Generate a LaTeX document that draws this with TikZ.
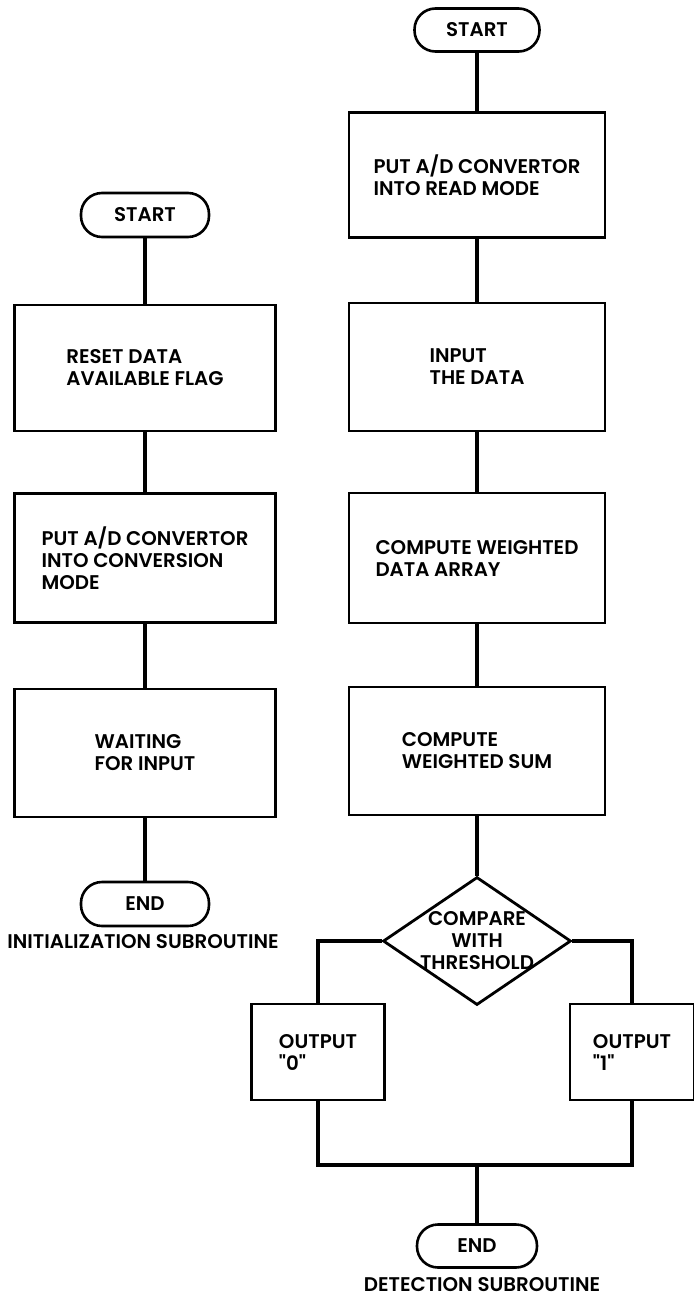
\documentclass[tikz,border=0pt]{standalone}
\usepackage{fontspec}
\setmainfont{Poppins}
\newfontfamily\flowfam{Poppins}[UprightFont={* SemiBold}]
\usetikzlibrary{shapes.geometric}
\newcommand\flowfont{\flowfam\fontsize{19.8}{22}\selectfont}
\begin{document}
\begin{tikzpicture}[x=1pt,y=-1pt,
  box/.style={draw, line width=2.6pt, align=left, inner sep=0pt, font=\flowfont},
  pill/.style={draw, line width=2.6pt, rounded corners=21pt, inner sep=0pt, font=\flowfont},
  dia/.style={draw, diamond, line width=2.8pt, inner sep=0pt},
  conn/.style={line width=3.6pt},
  captext/.style={font=\flowfont, inner sep=0pt, align=center}]
\fill[white] (0,0) rectangle (693,1297);
\useasboundingbox (0,0) rectangle (693,1297);

% left column
\node[pill, minimum width=128pt, minimum height=44pt] (ls) at (145,215) {START};
\node[box, minimum width=261pt, minimum height=126pt] (l1) at (145,368) {RESET DATA\\AVAILABLE FLAG};
\node[box, minimum width=261pt, minimum height=129pt] (l2) at (145,558) {PUT A/D CONVERTOR\\INTO CONVERSION\\MODE};
\node[box, minimum width=261pt, minimum height=128pt] (l3) at (145,753) {WAITING\\FOR INPUT};
\node[pill, minimum width=128pt, minimum height=44pt] (le) at (145,904) {END};
\node[captext] (lcap) at (143,942) {INITIALIZATION SUBROUTINE};

\draw[conn] (ls) -- (l1);
\draw[conn] (l1) -- (l2);
\draw[conn] (l2) -- (l3);
\draw[conn] (l3) -- (le);

% right column
\node[pill, minimum width=125pt, minimum height=43pt] (rs) at (477,30) {START};
\node[box, minimum width=256pt, minimum height=125pt] (r1) at (477,175) {PUT A/D CONVERTOR\\INTO READ MODE};
\node[box, minimum width=256pt, minimum height=128pt] (r2) at (477,367) {INPUT\\THE DATA};
\node[box, minimum width=256pt, minimum height=130pt] (r3) at (477,558) {COMPUTE WEIGHTED\\DATA ARRAY};
\node[box, minimum width=256pt, minimum height=128pt] (r4) at (477,751) {COMPUTE\\WEIGHTED SUM};
\node[dia, minimum width=188pt, minimum height=128pt] (d) at (477,941) {};
\node[captext] (dt) at (d.center) {COMPARE\\WITH\\THRESHOLD};
\node[box, minimum width=133pt, minimum height=96pt] (o0) at (318,1052) {OUTPUT\\"0"};
\node[box, minimum width=124pt, minimum height=96pt] (o1) at (632,1052) {OUTPUT\\"1"};
\coordinate (mj) at (477,1165);
\node[pill, minimum width=120pt, minimum height=43pt] (re) at (477,1246) {END};
\node[captext] (rcap) at (482,1285) {DETECTION SUBROUTINE};

\draw[conn] (rs) -- (r1);
\draw[conn] (r1) -- (r2);
\draw[conn] (r2) -- (r3);
\draw[conn] (r3) -- (r4);
\draw[conn] (r4) -- (d);
\draw[conn] (d.west) -| (o0.north);
\draw[conn] (d.east) -| (o1.north);
\draw[conn] (o0.south) |- (mj) -| (o1.south);
\draw[conn] (mj) -- (re);
\end{tikzpicture}
\end{document}
